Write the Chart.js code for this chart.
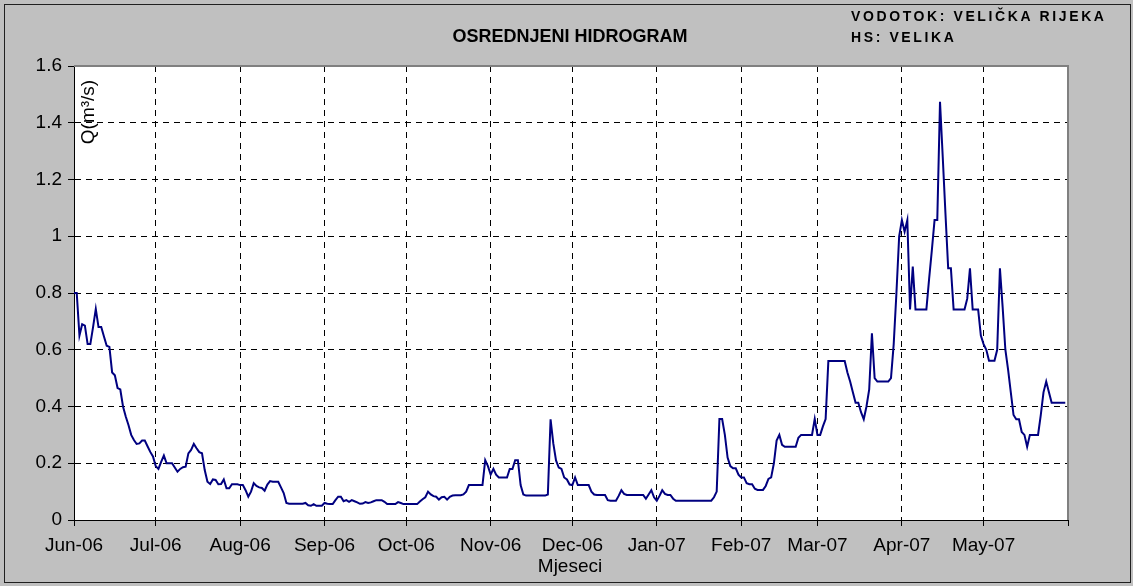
<!DOCTYPE html>
<html>
<head>
<meta charset="utf-8">
<script src="https://cdn.jsdelivr.net/npm/chart.js@4/dist/chart.umd.min.js"></script>
<style>
body { margin: 0; background: #c0c0c0; }
</style>
</head>
<body>
<canvas id="hidrogram" width="1133" height="586"></canvas>
<script>
// daily mean discharge Q (m3/s), one array per month
const jun06 = [0.8,0.8,0.65,0.69,0.685,0.62,0.62,0.68,0.744,0.68,0.68,0.647,0.614,0.61,0.52,0.51,0.465,0.46,0.40,0.365,0.335,0.30,0.282,0.268,0.27,0.28,0.28,0.26,0.24,0.224];
const jul06 = [0.19,0.18,0.205,0.227,0.2,0.2,0.2,0.185,0.17,0.18,0.186,0.188,0.235,0.247,0.268,0.253,0.239,0.235,0.176,0.135,0.127,0.143,0.141,0.126,0.127,0.143,0.112,0.112,0.126,0.126,0.126];
const aug06 = [0.123,0.123,0.105,0.082,0.1,0.13,0.12,0.115,0.113,0.103,0.125,0.137,0.135,0.135,0.135,0.115,0.095,0.06,0.057,0.057,0.057,0.057,0.057,0.057,0.06,0.052,0.05,0.056,0.05,0.05,0.05];
const sep06 = [0.06,0.057,0.056,0.056,0.07,0.082,0.082,0.066,0.07,0.064,0.07,0.066,0.062,0.057,0.058,0.063,0.06,0.062,0.066,0.07,0.07,0.07,0.064,0.056,0.056,0.056,0.056,0.063,0.06,0.056];
const oct06 = [0.056,0.056,0.056,0.056,0.056,0.065,0.073,0.08,0.1,0.09,0.084,0.082,0.072,0.08,0.082,0.072,0.082,0.086,0.087,0.087,0.087,0.09,0.1,0.123,0.123,0.123,0.123,0.123,0.123,0.211,0.19];
const nov06 = [0.16,0.18,0.16,0.15,0.15,0.15,0.15,0.18,0.18,0.211,0.211,0.123,0.09,0.086,0.086,0.086,0.086,0.086,0.086,0.086,0.086,0.09,0.355,0.27,0.21,0.185,0.18,0.15,0.143,0.125];
const dec06 = [0.123,0.15,0.123,0.123,0.123,0.123,0.123,0.1,0.09,0.088,0.088,0.088,0.088,0.07,0.068,0.068,0.068,0.085,0.105,0.092,0.088,0.088,0.088,0.088,0.088,0.088,0.088,0.075,0.09,0.105,0.08];
const jan07 = [0.068,0.085,0.105,0.092,0.088,0.088,0.075,0.068,0.068,0.068,0.068,0.068,0.068,0.068,0.068,0.068,0.068,0.068,0.068,0.068,0.068,0.08,0.1,0.356,0.356,0.3,0.22,0.19,0.182,0.182,0.16];
const feb07 = [0.15,0.15,0.13,0.126,0.126,0.11,0.106,0.106,0.106,0.12,0.145,0.15,0.2,0.28,0.3,0.265,0.258,0.258,0.258,0.258,0.258,0.29,0.3,0.3,0.3,0.3,0.3,0.356];
const mar07 = [0.3,0.3,0.33,0.356,0.56,0.56,0.56,0.56,0.56,0.56,0.56,0.52,0.488,0.45,0.413,0.413,0.38,0.355,0.4,0.46,0.658,0.5,0.488,0.488,0.488,0.488,0.488,0.5,0.62,0.8,1.0];
const apr07 = [1.057,1.016,1.057,0.742,0.893,0.742,0.742,0.742,0.742,0.742,0.85,0.95,1.057,1.057,1.474,1.28,1.08,0.887,0.887,0.742,0.742,0.742,0.742,0.742,0.78,0.887,0.742,0.742,0.742,0.65];
const may07 = [0.62,0.6,0.561,0.561,0.561,0.6,0.887,0.75,0.6,0.53,0.45,0.37,0.355,0.355,0.31,0.3,0.258,0.3,0.3,0.3,0.3,0.37,0.45,0.488,0.45,0.413,0.413,0.413,0.413,0.413,0.413];

const months = [jun06, jul06, aug06, sep06, oct06, nov06, dec06, jan07, feb07, mar07, apr07, may07];
const monthLabels = ['Jun-06','Jul-06','Aug-06','Sep-06','Oct-06','Nov-06','Dec-06','Jan-07','Feb-07','Mar-07','Apr-07','May-07',''];

// day index where each month starts
let monthStarts = [0];
months.forEach(m => monthStarts.push(monthStarts[monthStarts.length - 1] + m.length));

let dailyQ = [].concat(...months);
let points = dailyQ.map((q, i) => ({x: i, y: q}));

const FONT = '"Liberation Sans", Arial, sans-serif';

const frame = {
    id: 'frame',
    beforeDraw(chart) {
        const ctx = chart.ctx;
        const a = chart.chartArea;
        ctx.save();
        ctx.fillStyle = '#c0c0c0';
        ctx.fillRect(0, 0, chart.width, chart.height);
        ctx.strokeStyle = '#202020';
        ctx.lineWidth = 1;
        ctx.strokeRect(4.5, 4.5, 1126, 578);
        ctx.fillStyle = '#ffffff';
        ctx.fillRect(a.left, a.top, a.right - a.left, a.bottom - a.top);
        ctx.restore();
    },
    beforeDatasetsDraw(chart) {
        const ctx = chart.ctx;
        const a = chart.chartArea;
        ctx.save();
        // grey plot border top and right
        ctx.strokeStyle = '#808080';
        ctx.lineWidth = 2;
        ctx.beginPath();
        ctx.moveTo(a.left, a.top);
        ctx.lineTo(a.right, a.top);
        ctx.lineTo(a.right, a.bottom);
        ctx.stroke();
        ctx.restore();
    },
    afterDraw(chart) {
        const ctx = chart.ctx;
        ctx.save();
        ctx.fillStyle = '#000';
        ctx.textBaseline = 'middle';

        ctx.font = 'bold 18px ' + FONT;
        ctx.textAlign = 'center';
        ctx.fillText('OSREDNJENI HIDROGRAM', 570, 37);

        ctx.font = 'bold 14px ' + FONT;
        ctx.textAlign = 'left';
        ctx.letterSpacing = '2.6px';
        ctx.fillText('VODOTOK: VELIČKA RIJEKA', 851, 17);
        ctx.fillText('HS: VELIKA', 851, 38);
        ctx.letterSpacing = '0px';

        ctx.font = '19px ' + FONT;
        ctx.textAlign = 'center';
        ctx.fillText('Mjeseci', 570, 567);

        ctx.translate(89, 112);
        ctx.rotate(-Math.PI / 2);
        ctx.fillText('Q(m³/s)', 0, 0);
        ctx.restore();
    }
};

let ctx = document.getElementById('hidrogram').getContext('2d');
let chart = new Chart(ctx, {
    type: 'line',
    data: {
        datasets: [{
            label: 'Q',
            data: points,
            borderColor: '#000080',
            borderWidth: 2,
            pointRadius: 0,
            tension: 0,
            fill: false
        }]
    },
    options: {
        responsive: false,
        animation: false,
        devicePixelRatio: 1,
        layout: {
            padding: {left: 0, top: 66, right: 65, bottom: 0}
        },
        plugins: {
            legend: {display: false},
            tooltip: {enabled: false}
        },
        scales: {
            x: {
                type: 'linear',
                min: 0,
                max: monthStarts[monthStarts.length - 1],
                afterBuildTicks: axis => {
                    axis.ticks = monthStarts.map(v => ({value: v}));
                },
                afterFit: s => { s.height = 66; },
                ticks: {
                    autoSkip: false,
                    maxRotation: 0,
                    padding: 8,
                    color: '#000',
                    font: {family: FONT, size: 19},
                    callback: (v, i) => monthLabels[i]
                },
                grid: {
                    color: c => (c.index === 0 || c.index === monthStarts.length - 1) ? 'rgba(0,0,0,0)' : '#000',
                    tickColor: '#000',
                    tickLength: 6,
                    lineWidth: 1
                },
                border: {display: true, color: '#000', width: 1, dash: [6, 5]}
            },
            y: {
                min: 0,
                max: 1.6,
                afterFit: s => { s.width = 74; },
                ticks: {
                    stepSize: 0.2,
                    padding: 6,
                    color: '#000',
                    font: {family: FONT, size: 19},
                    callback: v => String(+v.toFixed(1))
                },
                grid: {
                    color: c => (c.index === 0 || c.index === 8) ? 'rgba(0,0,0,0)' : '#000',
                    tickColor: '#000',
                    tickLength: 6,
                    lineWidth: 1
                },
                border: {display: true, color: '#000', width: 1, dash: [6, 5]}
            }
        }
    },
    plugins: [frame]
});
</script>
</body>
</html>
